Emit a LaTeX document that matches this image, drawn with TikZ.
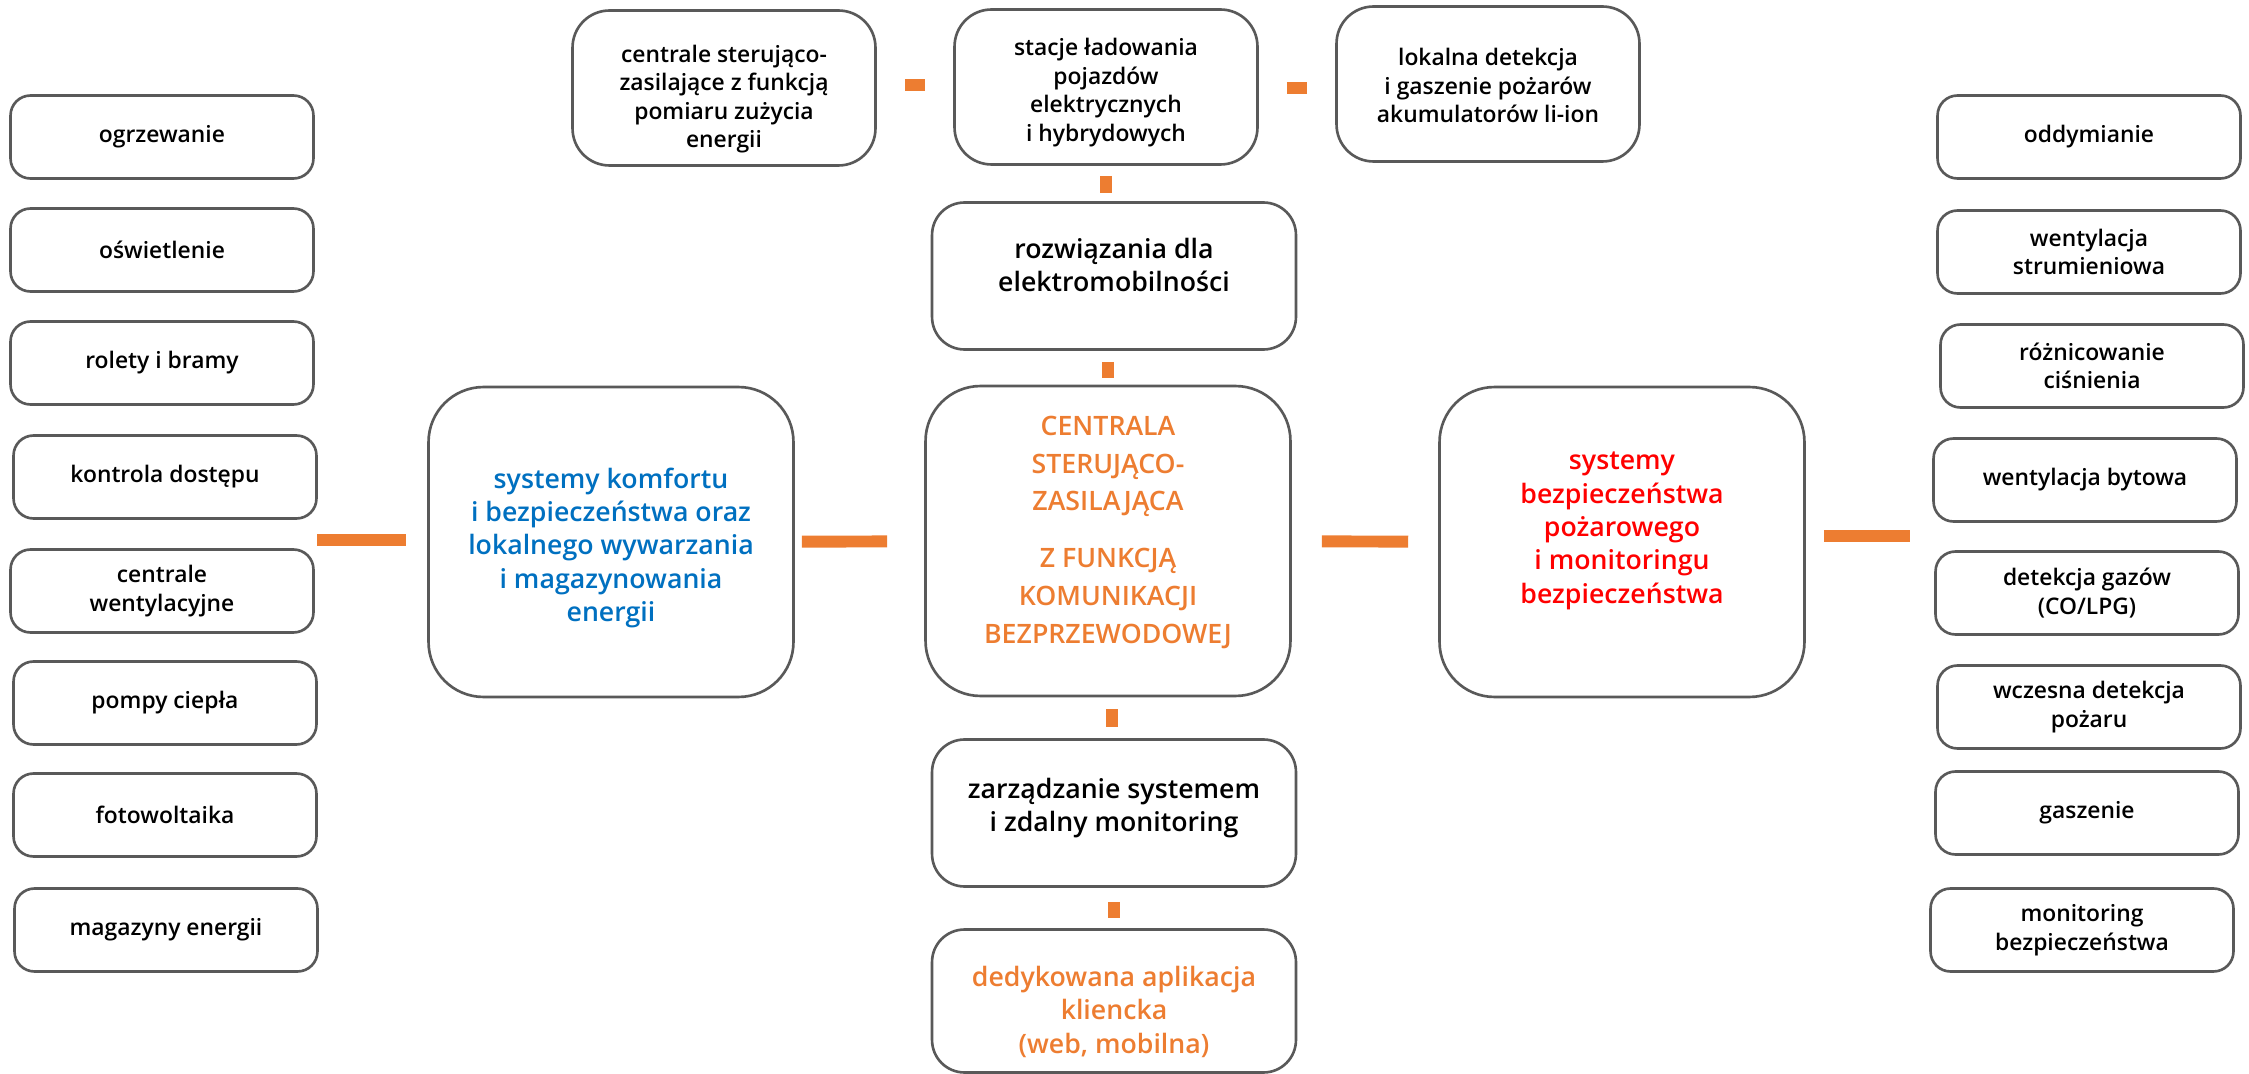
\documentclass[tikz,border=0pt]{standalone}
\usepackage{fontspec}
\setmainfont{Open Sans}[BoldFont={Open Sans Semibold}]
\usepackage{tikz}
\usetikzlibrary{positioning}
\definecolor{boxgray}{HTML}{595959}
\definecolor{linkorange}{HTML}{ED7D31}
\definecolor{textblue}{HTML}{0070C0}
\definecolor{textred}{HTML}{FF0000}
\newcommand{\smalltext}{\fontsize{13}{16.3}\selectfont\bfseries}
\newcommand{\largetext}{\fontsize{15.2}{19}\selectfont\bfseries}
\tikzstyle{sidebox} = [rectangle, rounded corners=0.4cm, minimum width=6.06cm, minimum height=1.66cm, text centered, align=center, draw=boxgray, line width=1.5pt, font=\smalltext]
\tikzstyle{topbox} = [sidebox, rounded corners=0.74cm, minimum height=3.1cm, text depth=0pt]
\tikzstyle{midbox} = [sidebox, rounded corners=0.65cm, minimum width=7.28cm, minimum height=2.94cm, font=\largetext]
\tikzstyle{bigbox} = [midbox, rounded corners=1.1cm, minimum width=7.3cm, minimum height=6.2cm]
\tikzstyle{link} = [linkorange, line width=6.8pt]

\begin{document}
\begin{tikzpicture}[x=0.02cm, y=-0.02cm]
        \useasboundingbox (0,0) rectangle (2249,1074);
        % left column
        \node (heating) [sidebox] at (162,137) {ogrzewanie};
        \node (lighting) [sidebox] at (162,250) {oświetlenie};
        \node (blinds) [sidebox] at (162,363) {rolety i bramy};
        \node (access) [sidebox] at (165,477) {kontrola dostępu};
        \node (ahu) [sidebox] at (162,591) {centrale\\wentylacyjne};
        \node (heatpumps) [sidebox] at (165,703) {pompy ciepła};
        \node (pv) [sidebox] at (165,815) {fotowoltaika};
        \node (storage) [sidebox] at (166,930) {magazyny energii};

        % right column
        \node (smoke) [sidebox] at (2089,137) {oddymianie};
        \node (jetfans) [sidebox] at (2089,252) {wentylacja\\strumieniowa};
        \node (pressure) [sidebox] at (2092,366) {różnicowanie\\ciśnienia};
        \node (ventilation) [sidebox] at (2085,480) {wentylacja bytowa};
        \node (gas) [sidebox] at (2087,593) {detekcja gazów\\(CO/LPG)};
        \node (earlyfire) [sidebox] at (2089,707) {wczesna detekcja\\pożaru};
        \node (extinguish) [sidebox] at (2087,813) {gaszenie};
        \node (monitoring) [sidebox] at (2082,930) {monitoring\\bezpieczeństwa};

        % top row
        \node (meters) [topbox, text height=68.3pt] at (724,88) {centrale sterująco-\\zasilające z funkcją\\pomiaru zużycia\\energii};
        \node (chargers) [topbox, text height=62.2pt] at (1106,87) {stacje ładowania\\pojazdów\\elektrycznych\\i hybrydowych};
        \node (liion) [topbox, text height=44pt] at (1488,84) {lokalna detekcja\\i gaszenie pożarów\\akumulatorów li-ion};

        % middle
        \node (emobility) [midbox, text height=31pt, text depth=13.1pt] at (1114,276) {rozwiązania dla\\elektromobilności};
        \node (controller) [bigbox, text=linkorange, text height=128pt, text depth=11.6pt, font=\fontsize{15.2}{21.5}\selectfont\bfseries] at (1108,541) {CENTRALA\\STERUJĄCO-\\ZASILAJĄCA\\[10.8pt]Z FUNKCJĄ\\KOMUNIKACJI\\BEZPRZEWODOWEJ};
        \node (comfort) [bigbox, text=textblue, text height=95pt, text depth=4.3pt] at (611,542) {systemy komfortu\\i bezpieczeństwa oraz\\lokalnego wywarzania\\i magazynowania\\energii};
        \node (fire) [bigbox, text=textred, text height=90pt, text depth=20.2pt] at (1622,542) {systemy\\bezpieczeństwa\\pożarowego\\i monitoringu\\bezpieczeństwa};
        \node (management) [midbox, text height=31pt, text depth=9.7pt] at (1114,813) {zarządzanie systemem\\i zdalny monitoring};
        \node (app) [midbox, text=linkorange, minimum height=2.86cm, text height=62pt, text depth=2.5pt] at (1114,1001) {dedykowana aplikacja\\kliencka\\(web, mobilna)};

        \coordinate (lefthub) at (317,540);
        \coordinate (righthub) at (1930,536);

        \draw [link, shorten >=0.42cm] (lefthub) -- (lefthub -| comfort.west);
        \draw [link, shorten <=0.14cm, shorten >=0.74cm] (comfort) -- (controller);
        \draw [link, shorten <=0.6cm, shorten >=0.6cm] (controller) -- (fire);
        \draw [link, shorten <=0.36cm, shorten >=0.4cm] (fire.east |- righthub) -- (righthub);
        \draw [link, line width=6.3pt, shorten <=0.56cm, shorten >=0.56cm] (meters.east |- 0,85) -- (chargers.west |- 0,85);
        \draw [link, line width=6.3pt, shorten <=0.56cm, shorten >=0.56cm] (chargers.east |- 0,88) -- (liion.west |- 0,88);
        \draw [link, line width=6.3pt, shorten <=0.2cm, shorten >=0.16cm] (chargers.south) -- (chargers.south |- emobility.north);
        \draw [link, line width=6.5pt, shorten <=0.22cm, shorten >=0.14cm] (controller.north |- emobility.south) -- (controller.north);
        \draw [link, line width=6.5pt, shorten <=0.24cm, shorten >=0.22cm] (controller.south -| 1112,0) -- (management.north -| 1112,0);
        \draw [link, line width=6.5pt, shorten <=0.28cm, shorten >=0.2cm] (management.south) -- (app.north);
    \end{tikzpicture}
\end{document}
